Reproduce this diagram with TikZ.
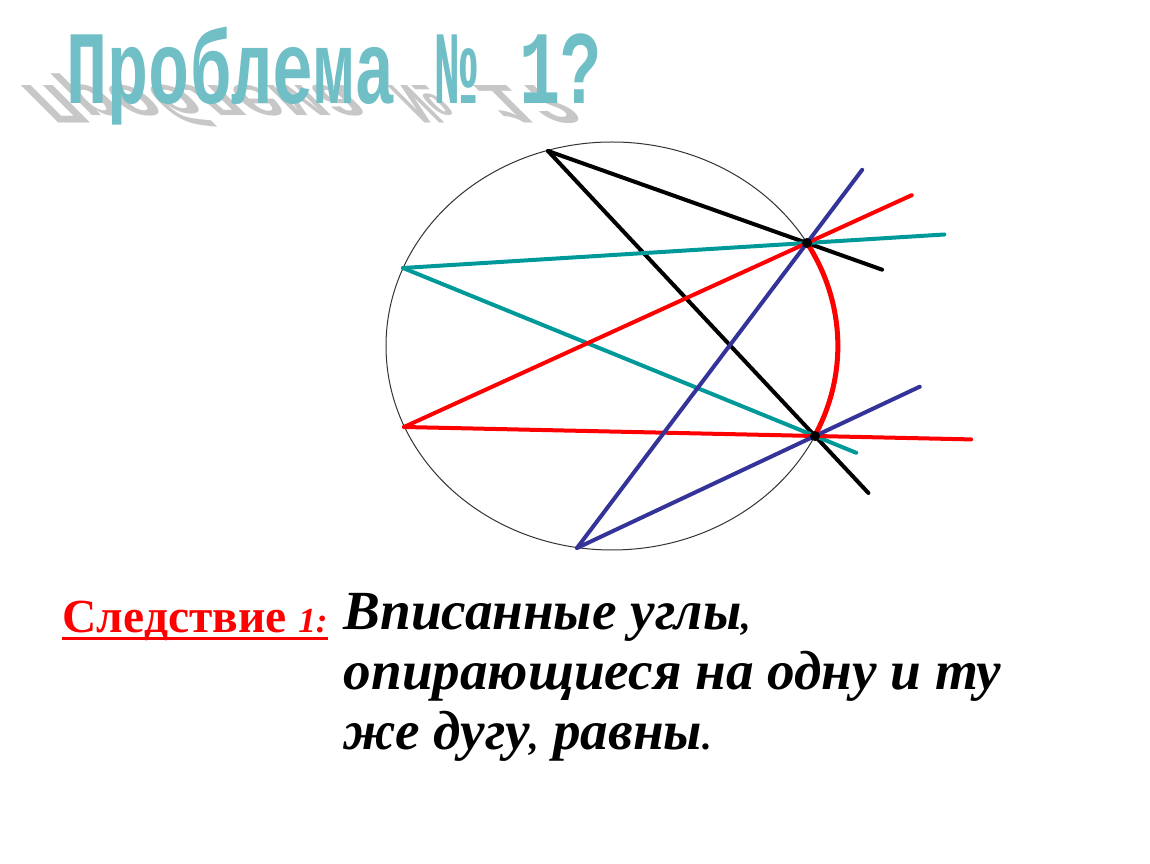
\documentclass[tikz,border=0pt]{standalone}
\usepackage{fontspec}
\setmainfont{Liberation Serif}
\newfontfamily\titlefont{Liberation Mono}
\usetikzlibrary{calc}
\definecolor{tealline}{RGB}{0,153,153}
\definecolor{blueline}{RGB}{51,51,153}
\definecolor{titleteal}{RGB}{112,190,198}
\tikzset{
chord/.style={
    line width=0.4mm,
    line cap=round
},
rim/.style={
    line width=0.1mm,
    draw=black!80
},
onarc/.style={
    red,
    line width=0.5mm
},
vertexdot/.style={
    circle,
    fill=black,
    inner sep=0pt,
    minimum size=1mm
},
titletext/.style={
    font=\titlefont\bfseries\fontsize{19.5}{20}\selectfont,
    text=titleteal,
    inner sep=0pt,
    yscale=1.52
},
titleshadow/.style={
    font=\titlefont\bfseries\fontsize{19.5}{20}\selectfont,
    text=black!22,
    inner sep=0pt,
    xslant=-1.0,
    yscale=-0.83
},
corollary/.style={
    font=\bfseries\fontsize{13.5}{14}\selectfont,
    text=red,
    inner sep=0pt
},
statement/.style={
    font=\bfseries\itshape\fontsize{15.7}{17.1}\selectfont,
    align=left,
    inner sep=0pt
}
}

\begin{document}
\begin{tikzpicture}[x=0.01cm,y=-0.01cm]
\useasboundingbox (0,0) rectangle (1150,864);

% title with its reflection
\node [titleshadow,anchor=base east] (shadow) at (552,86) {Проблема № 1?};
\node [titletext,anchor=base west] (title) at (66,104) {Проблема № 1?};

% circle and the two ends of the arc
\coordinate (O) at (612,346);
\draw [rim] (O) ellipse [x radius=226, y radius=204];
\coordinate (P1) at (807,243);
\coordinate (P2) at (815,436);
%
\coordinate (A) at (548,151);
\coordinate (B) at (403,268);
\coordinate (C) at (404,427);
\coordinate (D) at (577,548);

% inscribed angles resting on the arc P1P2
\draw [chord,black] (A) -- ($ (A)!1.29!(P1) $);
\draw [chord,black] (A) -- ($ (A)!1.20!(P2) $);
\draw [chord,tealline] (B) -- ($ (B)!1.34!(P1) $);
\draw [chord,tealline] (B) -- ($ (B)!1.10!(P2) $);
\draw [chord,red] (C) -- ($ (C)!1.26!(P1) $);
\draw [chord,red] (C) -- ($ (C)!1.38!(P2) $);
\draw [chord,blueline] (D) -- ($ (D)!1.24!(P1) $);
\draw [chord,blueline] (D) -- ($ (D)!1.44!(P2) $);

\draw [onarc] (P1) arc [start angle=-30.3, end angle=26.2, x radius=226, y radius=204];
\node [vertexdot] (p1dot) at (P1) {};
\node [vertexdot] (p2dot) at (P2) {};

% corollary
\node [corollary,anchor=base west] (cor) at (62,633) {Следствие {\itshape\fontsize{10}{10}\selectfont 1:}};
\draw [red,line width=0.3mm] ($ (cor.base west) + (0,6) $) -- ($ (cor.base east) + (0,6) $);
\node [statement,anchor=base west] (stmt) at (343,750) {Вписанные углы{\fontsize{11}{11}\selectfont,}\\опирающиеся на одну и ту\\же дугу{\fontsize{11}{11}\selectfont,} равны{\fontsize{11}{11}\selectfont.}};

\end{tikzpicture}
\end{document}
